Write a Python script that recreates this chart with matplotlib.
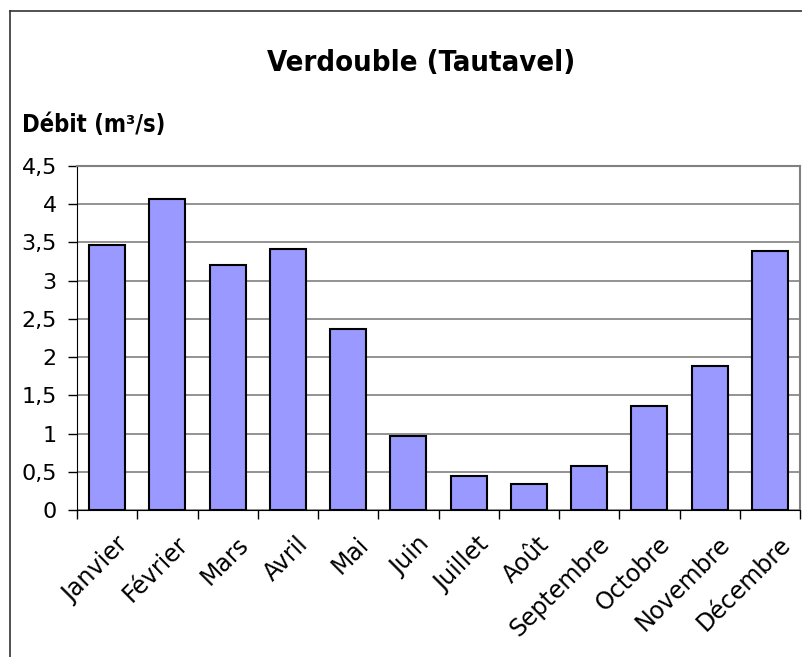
import matplotlib.pyplot as plt
from matplotlib.lines import Line2D

# Données
mois = ["Janvier", "Février", "Mars", "Avril", "Mai", "Juin", "Juillet",
        "Août", "Septembre", "Octobre", "Novembre", "Décembre"]
debit = [3.47, 4.07, 3.21, 3.42, 2.37, 0.97, 0.44, 0.34, 0.57, 1.36, 1.88, 3.39]
yticks = [0, 0.5, 1, 1.5, 2, 2.5, 3, 3.5, 4, 4.5]

W, H = 802, 657
fig = plt.figure(figsize=(W / 100, H / 100), dpi=100)

# Zone du graphique (en pixels)
left, right, top, bottom = 77, 800, 166, 510
ax = fig.add_axes([left / W, 1 - bottom / H, (right - left) / W, (bottom - top) / H])

x = range(len(mois))
ax.bar(x, debit, width=0.6, color='#9999ff', edgecolor='black', linewidth=1.5, zorder=3)

ax.set_xlim(-0.5, len(mois) - 0.5)
ax.set_ylim(0, 4.5)

# Grille et ticks
ax.set_yticks(yticks)
ax.set_yticklabels([f"{v:g}".replace('.', ',') for v in yticks], fontsize=16)
ax.yaxis.grid(True, color='#808080', linewidth=1.2, zorder=0)
ax.set_xticks([i - 0.5 for i in range(len(mois) + 1)])
ax.set_xticklabels([])
ax.tick_params(axis='both', direction='out', length=6.5, color='black', width=1)
ax.tick_params(axis='y', pad=8)

for i, m in enumerate(mois):
    ax.annotate(m, xy=(i, 0), xycoords=('data', 'axes fraction'),
                xytext=(6, -16), textcoords='offset points',
                rotation=45, ha='right', va='top', rotation_mode='anchor',
                fontsize=17)

for s in ['top', 'right']:
    ax.spines[s].set_color('#808080')
    ax.spines[s].set_linewidth(1.5)
ax.spines['left'].set_color('black')
ax.spines['bottom'].set_color('black')

# Titres
fig.text(421 / W, 1 - 71 / H, "Verdouble (Tautavel)", ha='center', va='baseline',
         fontsize=21, fontweight='bold', fontstretch='condensed')
fig.text(22 / W, 1 - 132 / H, "Débit (m³/s)", ha='left', va='baseline',
         fontsize=17, fontweight='bold', fontstretch='condensed')

# Cadre extérieur
fig.add_artist(Line2D([10 / W, 10 / W], [0, 1 - 11 / H], color='#333333', linewidth=1.2,
                      transform=fig.transFigure))
fig.add_artist(Line2D([10 / W, 1], [1 - 11 / H, 1 - 11 / H], color='#333333', linewidth=1.2,
                      transform=fig.transFigure))

fig.savefig("out.png", dpi=100)
